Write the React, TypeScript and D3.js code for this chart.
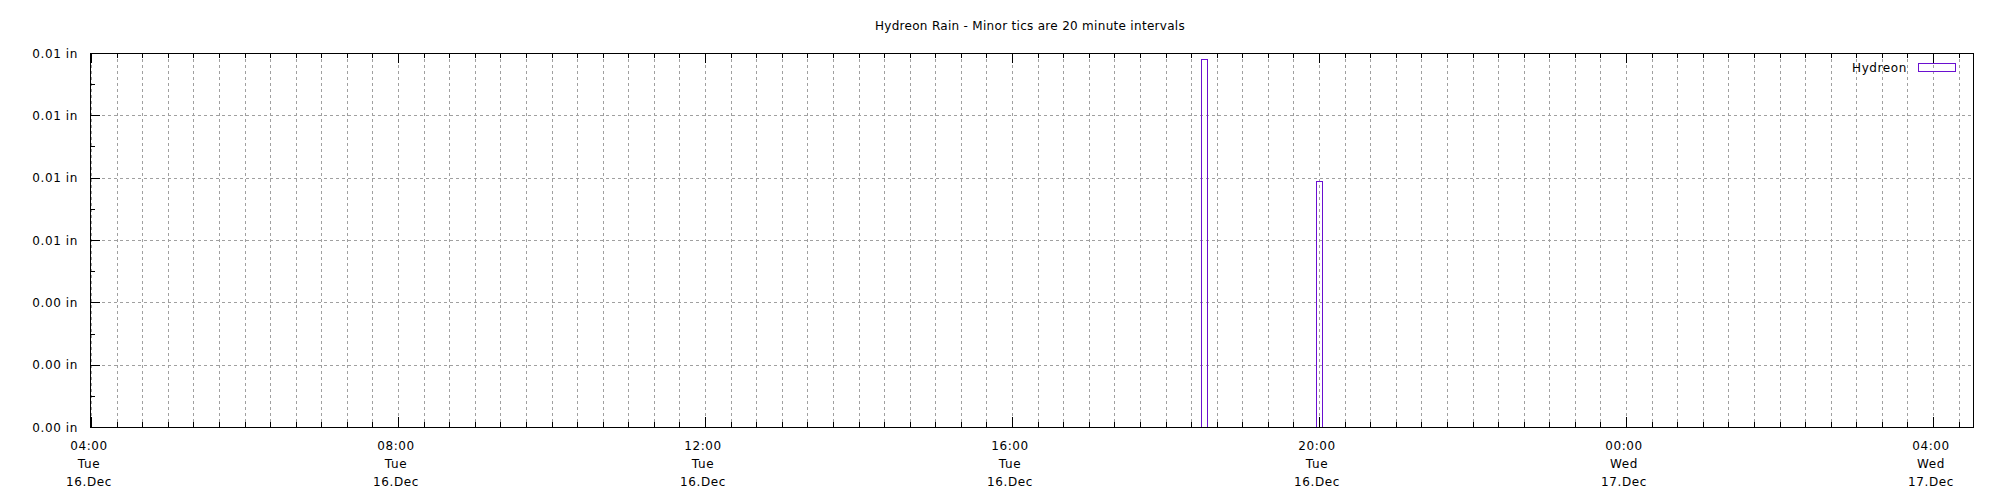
import React from "react";
import * as d3 from "d3";

const chartTitle = "Hydreon Rain - Minor tics are 20 minute intervals";
const seriesName = "Hydreon";
const rainTimes = ["2025-12-16T18:30:00Z", "2025-12-16T20:00:00Z"];
const rainValues = [0.0118, 0.0079];
const yTickValues = [0, 0.002, 0.004, 0.006, 0.008, 0.01, 0.012];
const xStart = "2025-12-16T03:59:13Z";
const xEnd = "2025-12-17T04:31:16Z";
const boxMinutes = 5;

const W = 2000;
const H = 500;
const M = { left: 90, right: 1973, top: 53, bottom: 427 };
const FONT = "'DejaVu Sans', sans-serif";
const PURPLE = "#6a10d0";
const GRID = "#a0a0a0";

export default function App() {
  const x = d3.scaleUtc().domain([new Date(xStart), new Date(xEnd)]).range([M.left, M.right]);
  const y = d3.scaleLinear().domain([0, 0.012]).range([M.bottom, M.top]);
  const [d0, d1] = x.domain();
  const minorX = d3.utcMinute.every(20)!.range(d0, d1);
  const majorX = d3.utcHour.every(4)!.range(d0, d1);
  const minorY = d3.range(0.001, 0.012, 0.002);
  const fTime = d3.utcFormat("%H:%M");
  const fDay = d3.utcFormat("%a");
  const fDate = d3.utcFormat("%d.%b");
  const fY = d3.format(".2f");
  const halfBox = (boxMinutes * 60000) / 2;

  return (
    <svg width={W} height={H} style={{ position: "absolute", left: 0, top: 0, background: "#fff" }} fontFamily={FONT}>
      <rect x={0} y={0} width={W} height={H} fill="#fff" />
      {/* grid */}
      <g stroke={GRID} strokeWidth={1} strokeDasharray="3,3">
        {minorX.map((d, i) => (
          <line key={"gx" + i} x1={Math.round(x(d)) + 0.5} x2={Math.round(x(d)) + 0.5} y1={M.top} y2={M.bottom} />
        ))}
        {yTickValues.slice(1, -1).map((v, i) => (
          <line key={"gy" + i} x1={M.left} x2={M.right} y1={Math.round(y(v)) + 0.5} y2={Math.round(y(v)) + 0.5} />
        ))}
      </g>
      {/* bars */}
      <g fill="none" stroke={PURPLE} strokeWidth={1}>
        {rainTimes.map((t, i) => {
          const c = new Date(t).getTime();
          const x0 = Math.round(x(new Date(c - halfBox)));
          const x1 = Math.round(x(new Date(c + halfBox)));
          const yt = Math.round(y(rainValues[i]));
          return <rect key={"b" + i} x={x0 + 0.5} y={yt + 0.5} width={x1 - x0} height={Math.round(y(0)) - yt} />;
        })}
      </g>
      {/* ticks */}
      <g stroke="#000" strokeWidth={1}>
        {minorX.map((d, i) => {
          const xx = Math.round(x(d)) + 0.5;
          return (
            <g key={"tx" + i}>
              <line x1={xx} x2={xx} y1={M.bottom} y2={M.bottom - 5} />
              <line x1={xx} x2={xx} y1={M.top} y2={M.top + 5} />
            </g>
          );
        })}
        {majorX.map((d, i) => {
          const xx = Math.round(x(d)) + 0.5;
          return (
            <g key={"TX" + i}>
              <line x1={xx} x2={xx} y1={M.bottom} y2={M.bottom - 10} />
              <line x1={xx} x2={xx} y1={M.top} y2={M.top + 10} />
            </g>
          );
        })}
        {yTickValues.map((v, i) => (
          <line key={"ty" + i} x1={M.left} x2={M.left + 10} y1={Math.round(y(v)) + 0.5} y2={Math.round(y(v)) + 0.5} />
        ))}
        {minorY.map((v, i) => (
          <line key={"my" + i} x1={M.left} x2={M.left + 5} y1={Math.round(y(v)) + 0.5} y2={Math.round(y(v)) + 0.5} />
        ))}
      </g>
      {/* border */}
      <rect x={M.left + 0.5} y={M.top + 0.5} width={M.right - M.left} height={M.bottom - M.top} fill="none" stroke="#000" strokeWidth={1} />
      {/* y labels */}
      <g fontSize={12} textAnchor="end" fill="#000" letterSpacing={0.6}>
        {yTickValues.map((v, i) => (
          <text key={"yl" + i} x={M.left - 12} y={y(v) + 4.5}>
            {fY(v) + " in"}
          </text>
        ))}
      </g>
      {/* x labels */}
      <g fontSize={12} textAnchor="middle" fill="#000" letterSpacing={0.6}>
        {majorX.map((d, i) => (
          <g key={"xl" + i}>
            <text x={x(d) - 2} y={450}>{fTime(d)}</text>
            <text x={x(d) - 2} y={468}>{fDay(d)}</text>
            <text x={x(d) - 2} y={486}>{fDate(d)}</text>
          </g>
        ))}
      </g>
      {/* title */}
      <text x={1030} y={30} fontSize={12} textAnchor="middle" letterSpacing={0.3}>
        {chartTitle}
      </text>
      {/* legend */}
      <text x={1907} y={72} fontSize={12} textAnchor="end" letterSpacing={0.6}>
        {seriesName}
      </text>
      <rect x={1918.5} y={63.5} width={37} height={8} fill="none" stroke={PURPLE} strokeWidth={1} />
    </svg>
  );
}
